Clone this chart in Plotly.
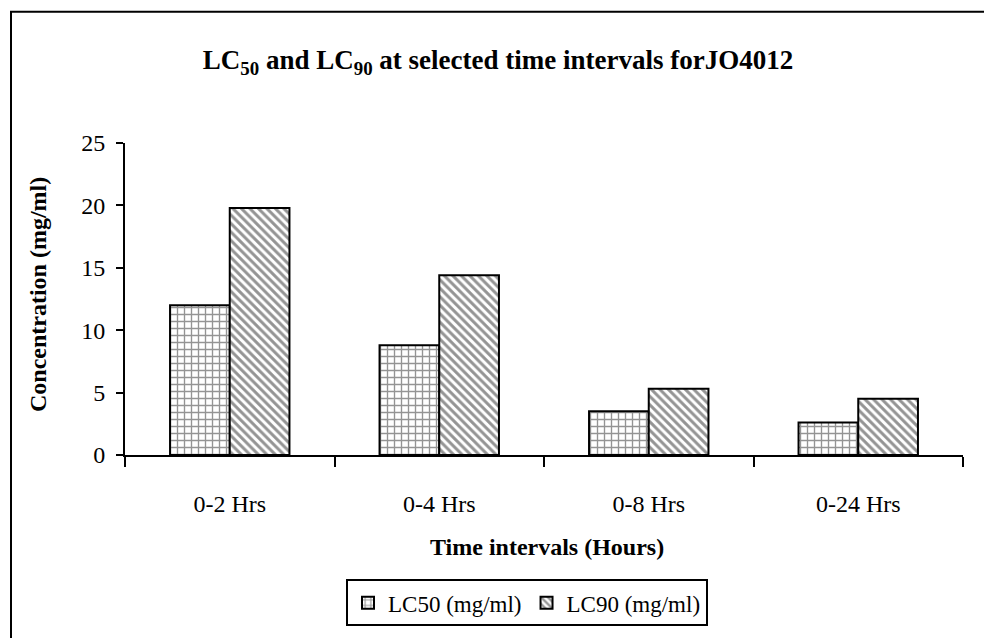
import plotly.graph_objects as go

# Toxicity data for JO4012
intervals = ["0-2 Hrs", "0-4 Hrs", "0-8 Hrs", "0-24 Hrs"]
lc50 = [12.0, 8.8, 3.5, 2.6]
lc90 = [19.8, 14.4, 5.3, 4.5]
y_ticks = [0, 5, 10, 15, 20, 25]

SERIF = "Liberation Serif, Times New Roman, serif"

# plot-area geometry (px) used to place frame and titles in paper coords
W, H = 984, 638
L, R, T, B = 125, 21, 143, 181
PW, PH = W - L - R, H - T - B


def px_x(px):
    return (px - L) / PW


def px_y(py):
    return (H - B - py) / PH


fig = go.Figure()
fig.add_trace(go.Bar(
    name="LC50 (mg/ml)", x=intervals, y=lc50,
    marker=dict(
        color="white",
        line=dict(color="black", width=2),
        pattern=dict(shape="+", size=7, solidity=0.35,
                     fgcolor="#2a2a2a", bgcolor="white", fillmode="overlay"),
    ),
))
fig.add_trace(go.Bar(
    name="LC90 (mg/ml)", x=intervals, y=lc90,
    marker=dict(
        color="white",
        line=dict(color="black", width=2),
        pattern=dict(shape="\\", size=6, solidity=0.5,
                     fgcolor="#2a2a2a", bgcolor="white", fillmode="overlay"),
    ),
))

fig.update_layout(
    width=W, height=H,
    margin=dict(l=L, r=R, t=T, b=B),
    paper_bgcolor="white", plot_bgcolor="white",
    barmode="group", bargap=0.43, bargroupgap=0,
    font=dict(family=SERIF, color="black", size=22),
    title=dict(
        text="LC<sub>50</sub> and LC<sub>90</sub> at selected time intervals forJO4012",
        font=dict(family=SERIF, size=27, color="black", weight="bold"),
        xref="paper", x=px_x(498), xanchor="center",
        yref="container", y=1 - 60 / H, yanchor="middle",
    ),
    xaxis=dict(
        showline=True, linecolor="black", linewidth=2,
        ticks="outside", tickson="boundaries", ticklen=10, tickwidth=2,
        tickcolor="black", ticklabelstandoff=26,
        tickfont=dict(family=SERIF, size=24, color="black"),
        showgrid=False, zeroline=False,
    ),
    yaxis=dict(
        range=[0, 25], tickvals=y_ticks,
        showline=True, linecolor="black", linewidth=2,
        ticks="outside", ticklen=7, tickwidth=2, tickcolor="black",
        ticklabelstandoff=6,
        tickfont=dict(family=SERIF, size=24, color="black"),
        showgrid=False, zeroline=False,
    ),
    legend=dict(
        orientation="h", xref="paper", yref="paper",
        x=px_x(527), xanchor="center", y=px_y(582), yanchor="top",
        bordercolor="black", borderwidth=2, bgcolor="white",
        font=dict(family=SERIF, size=23, color="black"),
        itemwidth=30, tracegroupgap=0,
    ),
    showlegend=True,
)

# axis titles
fig.add_annotation(
    text="<b>Concentration (mg/ml)</b>", textangle=-90,
    xref="paper", yref="paper", x=px_x(38), y=px_y(296),
    xanchor="center", yanchor="middle", showarrow=False,
    font=dict(family=SERIF, size=24, color="black"),
)
fig.add_annotation(
    text="<b>Time intervals (Hours)</b>",
    xref="paper", yref="paper", x=px_x(547), y=px_y(550),
    xanchor="center", yanchor="middle", showarrow=False,
    font=dict(family=SERIF, size=24, color="black"),
)

# outer chart frame
fig.add_shape(
    type="rect", xref="paper", yref="paper",
    x0=px_x(11), x1=px_x(995), y0=px_y(650), y1=px_y(11),
    line=dict(color="black", width=2), fillcolor="rgba(0,0,0,0)",
    layer="below",
)

fig.write_html("out.html")
